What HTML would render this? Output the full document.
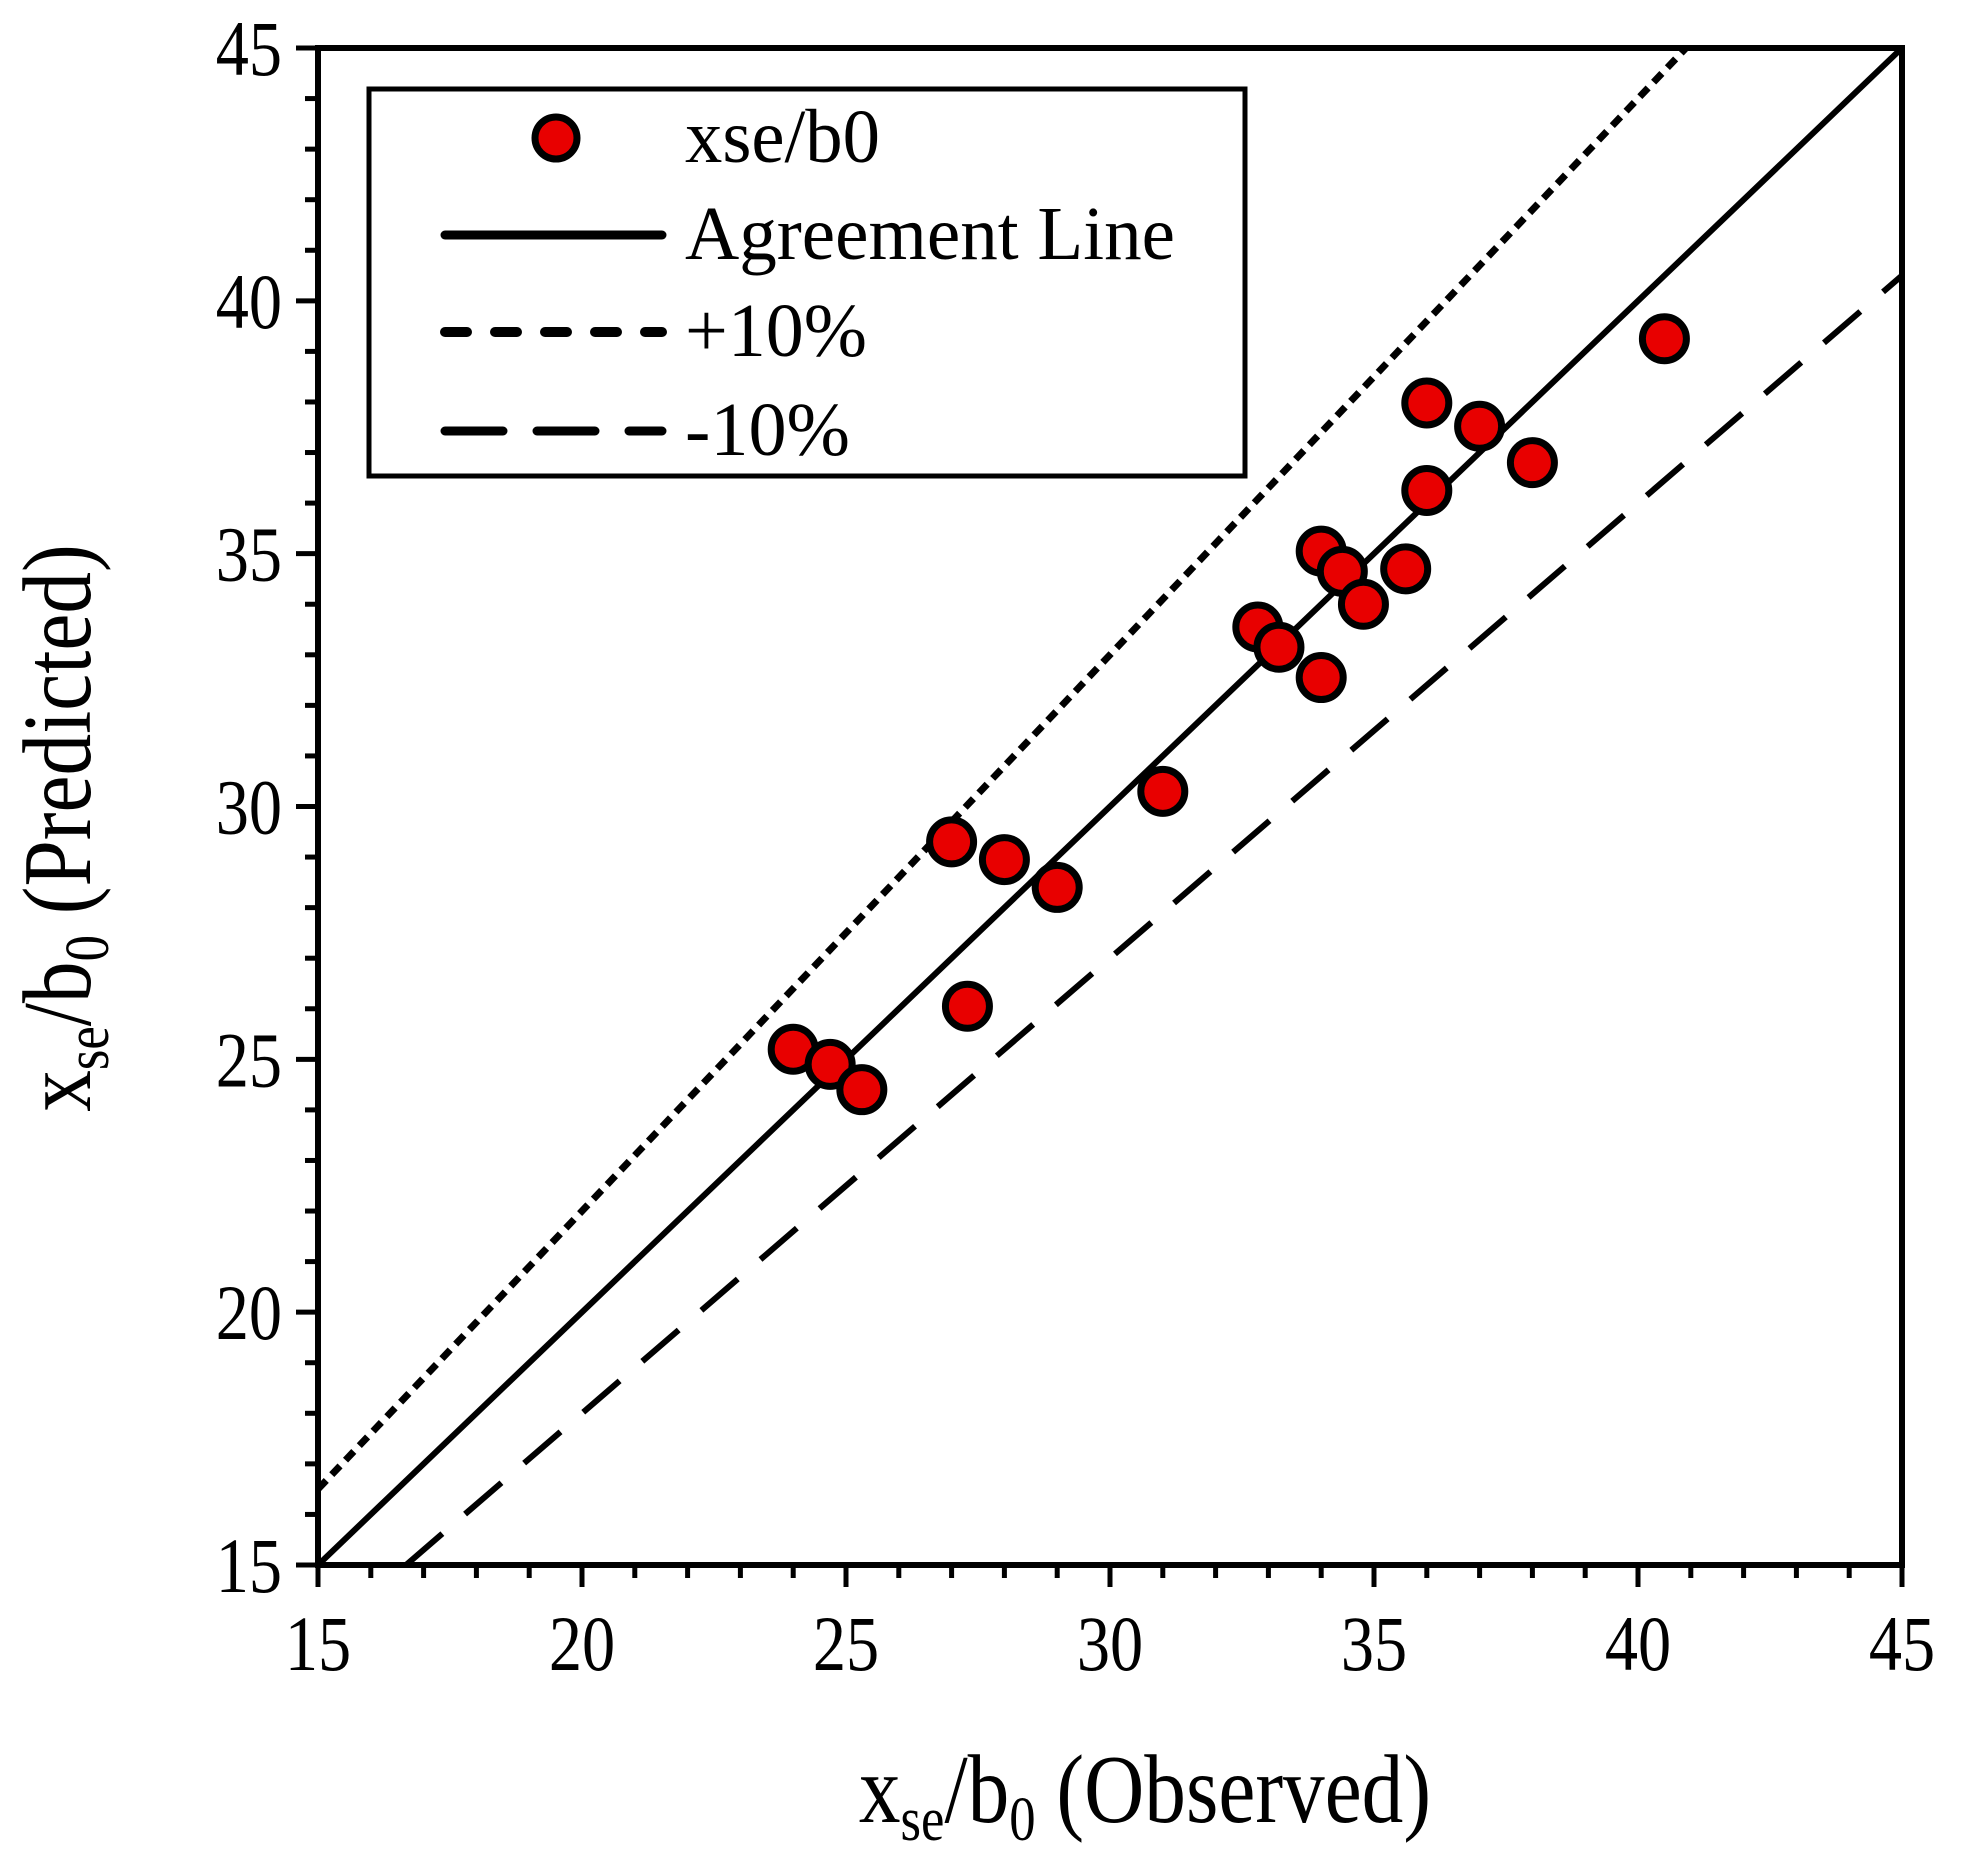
<!DOCTYPE html>
<html><head><meta charset="utf-8"><style>
html,body{margin:0;padding:0;background:#fff;}
svg{display:block;font-family:"Liberation Serif",serif;}
</style></head><body>
<svg id="chart" width="1967" height="1855" viewBox="0 0 1967 1855">
<g id="plot"></g>
</svg>
<script>
const obsValues=[24,24.7,25.3,27,27.3,28,29,31,32.8,33.2,34,34,34.4,34.8,35.6,36,36,37,38,40.5];
const predValues=[25.2,24.9,24.4,29.3,26.05,28.95,28.4,30.3,33.55,33.15,32.55,35.05,34.65,34,34.7,37.98,36.25,37.52,36.8,39.25];
const tickValues=[15,20,25,30,35,40,45];
const lineFactors=[1,1.1,0.9];

const L=318,R=1902,T=48,B=1565,MIN=15,MAX=45;
const sx=v=>L+(v-MIN)/(MAX-MIN)*(R-L);
const sy=v=>B-(v-MIN)/(MAX-MIN)*(B-T);
const NS="http://www.w3.org/2000/svg";
const g=document.getElementById('plot');
function mk(tag,attrs,parent){const e=document.createElementNS(NS,tag);for(const k in attrs)e.setAttribute(k,attrs[k]);(parent||g).appendChild(e);return e;}

const styles=[{w:6,d:''},{w:7,d:'12 8'},{w:6,d:'48 30'}];
const lnames=['agreement-line','plus-10-line','minus-10-line'];
const clip=mk('clipPath',{id:'cp'});mk('rect',{x:L,y:T,width:R-L,height:B-T},clip);
lineFactors.forEach((f,i)=>{
  let x1=MIN,y1=f*MIN; if(y1<MIN){x1=MIN/f;y1=MIN;}
  let x2=MAX,y2=f*MAX; if(y2>MAX){x2=MAX/f;y2=MAX;}
  const l=mk('line',{x1:sx(x1),y1:sy(y1),x2:sx(x2),y2:sy(y2),stroke:'#000','stroke-width':styles[i].w,'stroke-dasharray':styles[i].d,'clip-path':'url(#cp)'});
  
  
});

obsValues.forEach((v,i)=>{
  const c=mk('circle',{cx:sx(v),cy:sy(predValues[i]),r:22,fill:'#e80000',stroke:'#000','stroke-width':7});
  
  
});

const fr=mk('rect',{x:L,y:T,width:R-L,height:B-T,fill:'none',stroke:'#000','stroke-width':6});



for(let v=MIN;v<=MAX;v++){
  const major=(v%5===0);const len=major?22:13;
  mk('line',{x1:sx(v),y1:B,x2:sx(v),y2:B+len,stroke:'#000','stroke-width':5});
  mk('line',{x1:L,y1:sy(v),x2:L-len,y2:sy(v),stroke:'#000','stroke-width':5});
}
tickValues.forEach(v=>{
  const tx=mk('text',{x:sx(v),y:B+105,'font-size':78,'text-anchor':'middle',transform:`translate(${sx(v)},0) scale(0.85,1) translate(${-sx(v)},0)`});
  tx.textContent=v;
  
  
  const ty=mk('text',{x:L-36,y:sy(v)+27,'font-size':78,'text-anchor':'end',transform:`translate(${L-36},0) scale(0.85,1) translate(${-(L-36)},0)`});
  ty.textContent=v;
  
  
});
</script>
<svg style="position:absolute;left:0;top:0" width="1967" height="1855">
<g font-family="Liberation Serif, serif">
<text x="1145" y="1822" font-size="98" text-anchor="middle" transform="translate(1145,0) scale(0.85,1) translate(-1145,0)">x<tspan font-size="62" dy="18">se</tspan><tspan dy="-18">/b</tspan><tspan font-size="62" dy="18">0</tspan><tspan dy="-18"> (Observed)</tspan></text>
<text transform="translate(90,828) rotate(-90) scale(0.85,1)" font-size="98" text-anchor="middle">x<tspan font-size="62" dy="18">se</tspan><tspan dy="-18">/b</tspan><tspan font-size="62" dy="18">0</tspan><tspan dy="-18"> (Predicted)</tspan></text>
<g>
<rect x="369" y="89" width="876" height="387" fill="#fff" stroke="#000" stroke-width="5"/>
<circle cx="556" cy="138" r="21" fill="#e80000" stroke="#000" stroke-width="7"/>
<text x="685" y="162" font-size="76" textLength="195" lengthAdjust="spacingAndGlyphs">xse/b0</text>
<line x1="445" y1="235" x2="662" y2="235" stroke="#000" stroke-width="9" stroke-linecap="round"/>
<text x="685" y="259" font-size="76" textLength="490" lengthAdjust="spacingAndGlyphs">Agreement Line</text>
<line x1="445" y1="332" x2="662" y2="332" stroke="#000" stroke-width="10" stroke-linecap="round" stroke-dasharray="22 28"/>
<text x="685" y="356" font-size="76" textLength="182" lengthAdjust="spacingAndGlyphs">+10%</text>
<line x1="445" y1="431" x2="662" y2="431" stroke="#000" stroke-width="9" stroke-linecap="round" stroke-dasharray="58 34"/>
<text x="685" y="455" font-size="76" textLength="165" lengthAdjust="spacingAndGlyphs">-10%</text>
</g>
</g>
</svg>
</body></html>
